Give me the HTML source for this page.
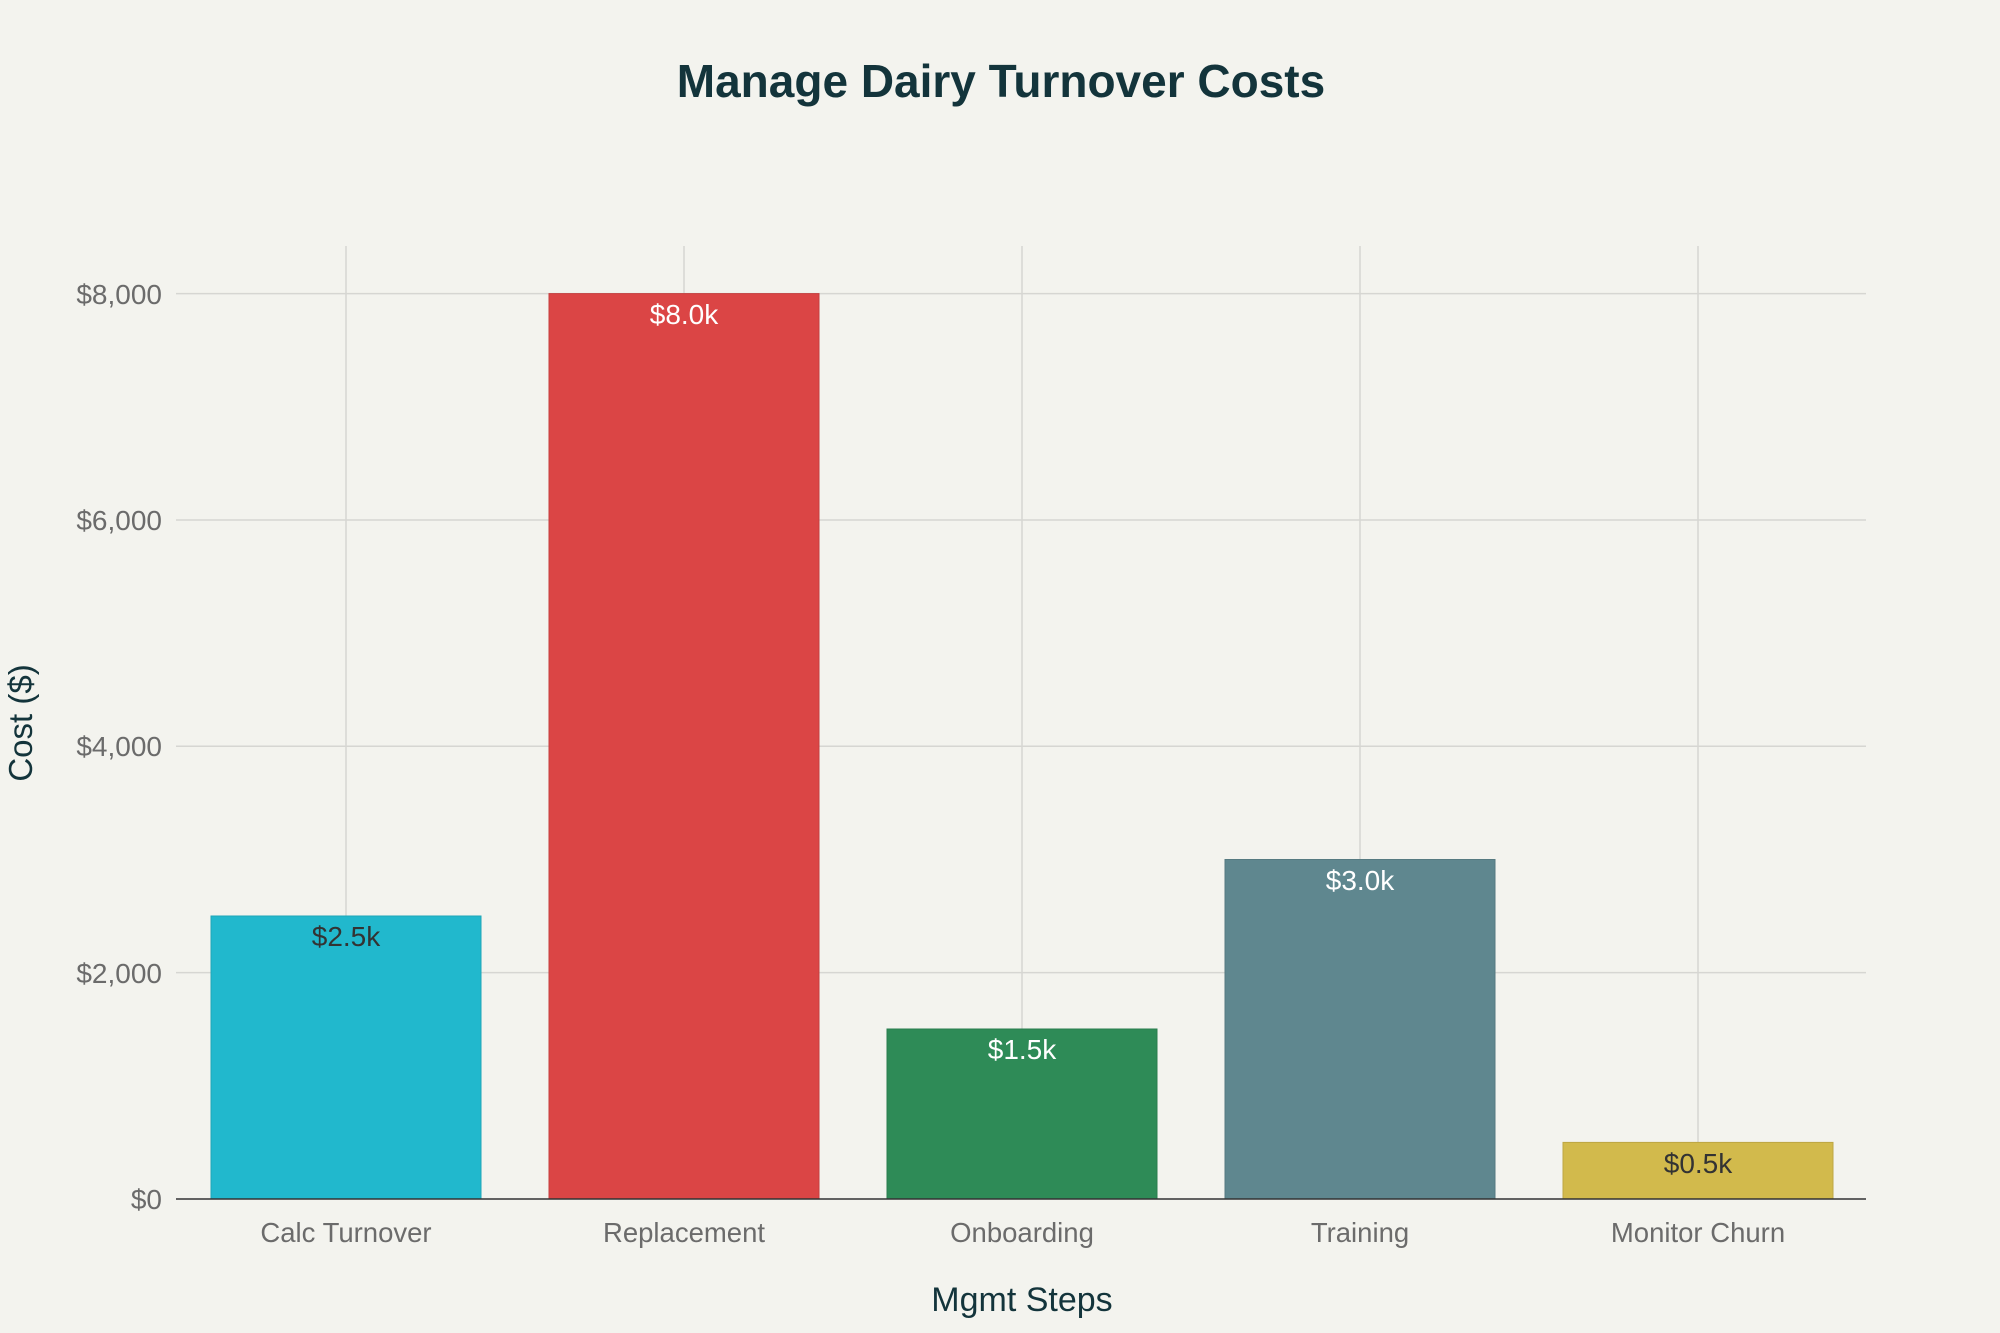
<!DOCTYPE html>
<html><head><meta charset="utf-8"><style>
html,body{margin:0;padding:0;background:#F3F3EE;}
svg{display:block;font-family:"Liberation Sans",sans-serif;}
</style></head><body>
<svg width="2000" height="1333" viewBox="0 0 2000 1333">
<rect width="2000" height="1333" fill="#F3F3EE"/>
<text x="1001" y="97" text-anchor="middle" font-size="46" font-weight="bold" fill="#13343B">Manage Dairy Turnover Costs</text>
<g stroke="#D6D6D2" stroke-width="1.5">
<line x1="176" x2="1866" y1="972.6" y2="972.6"/>
<line x1="176" x2="1866" y1="746.3" y2="746.3"/>
<line x1="176" x2="1866" y1="520" y2="520"/>
<line x1="176" x2="1866" y1="293.6" y2="293.6"/>
<line x1="346" x2="346" y1="246" y2="1199"/>
<line x1="684" x2="684" y1="246" y2="1199"/>
<line x1="1022" x2="1022" y1="246" y2="1199"/>
<line x1="1360" x2="1360" y1="246" y2="1199"/>
<line x1="1698" x2="1698" y1="246" y2="1199"/>
</g>
<g stroke-width="1">
<rect x="211" y="916" width="270" height="283" fill="#21B8CD" stroke="#1EA6B8"/>
<rect x="549" y="293.6" width="270" height="905.4" fill="#DB4545" stroke="#C53E3E"/>
<rect x="887" y="1029" width="270" height="170" fill="#2E8B57" stroke="#297D4E"/>
<rect x="1225" y="859.5" width="270" height="339.5" fill="#5F878F" stroke="#567A81"/>
<rect x="1563" y="1142.4" width="270" height="56.6" fill="#D2BA4C" stroke="#BDA744"/>
</g>
<line x1="176" x2="1866" y1="1199" y2="1199" stroke="#333" stroke-width="1.5"/>
<g font-size="28" text-anchor="middle">
<text x="346" y="946" fill="#333">$2.5k</text>
<text x="684" y="324" fill="#fff">$8.0k</text>
<text x="1022" y="1059" fill="#fff">$1.5k</text>
<text x="1360" y="890" fill="#fff">$3.0k</text>
<text x="1698" y="1173" fill="#333">$0.5k</text>
</g>
<g font-size="28" fill="#6B6B6B" text-anchor="end">
<text x="162" y="1209">$0</text>
<text x="162" y="983">$2,000</text>
<text x="162" y="756">$4,000</text>
<text x="162" y="530">$6,000</text>
<text x="162" y="304">$8,000</text>
</g>
<g font-size="27.5" fill="#6B6B6B" text-anchor="middle">
<text x="346" y="1242">Calc Turnover</text>
<text x="684" y="1242">Replacement</text>
<text x="1022" y="1242">Onboarding</text>
<text x="1360" y="1242">Training</text>
<text x="1698" y="1242">Monitor Churn</text>
</g>
<text x="1022" y="1311" text-anchor="middle" font-size="34" fill="#13343B">Mgmt Steps</text>
<text transform="translate(32,723) rotate(-90)" text-anchor="middle" font-size="33" fill="#13343B">Cost ($)</text>
</svg>
</body></html>
